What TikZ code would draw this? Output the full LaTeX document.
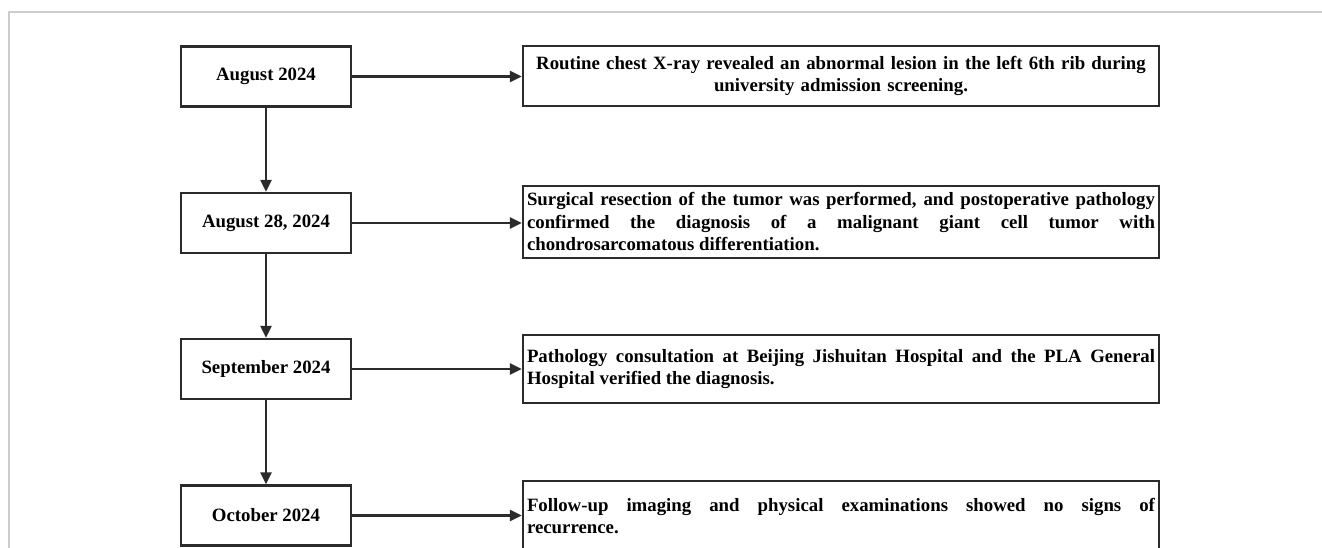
\documentclass[tikz,border=0pt]{standalone}
\usepackage{fontspec}
\setmainfont{Liberation Serif}
\usetikzlibrary{arrows.meta}
\definecolor{boxc}{HTML}{2B2B2B}
\definecolor{framec}{HTML}{CCCCCC}
\begin{document}
\begin{tikzpicture}[x=1pt,y=-1pt,
  txt/.style={font=\fontsize{18.8}{22.5}\selectfont\bfseries},
  datebox/.style={txt, draw=boxc, line width=2.3pt, minimum width=170pt, minimum height=60pt, inner sep=0pt},
  eventbox/.style={txt, draw=boxc, line width=2.3pt, text width=628pt, inner xsep=4pt, inner ysep=0pt},
  conn/.style={draw=boxc, line width=2.2pt, -{Triangle[length=12pt,width=11pt]}}]
\useasboundingbox (0,0) rectangle (1322,548);
\fill[white] (0,0) rectangle (1322,548);
% frame
\coordinate (f1) at (9,548);
\coordinate (f2) at (9,12);
\coordinate (f3) at (1322,12);
\draw[framec, line width=1.2pt] (f1) -- (f2) -- (f3);
% date boxes
\node[datebox] (d1) at (266,76.5) {August 2024};
\node[datebox] (d2) at (266,223) {August 28, 2024};
\node[datebox] (d3) at (266,369) {September 2024};
\node[datebox] (d4) at (266,515.5) {October 2024};
% event boxes
\node[eventbox, align=center, minimum height=60pt] (e1) at (841,76) {Routine chest X-ray revealed an abnormal lesion in the left 6th rib during\\university admission screening.};
\node[eventbox, align=justify, minimum height=72pt] (e2) at (841,222) {Surgical resection of the tumor was performed, and postoperative pathology\linebreak confirmed the diagnosis of a malignant giant cell tumor with\linebreak chondrosarcomatous differentiation.};
\node[eventbox, align=justify, minimum height=68pt] (e3) at (841,369) {Pathology consultation at Beijing Jishuitan Hospital and the PLA General\linebreak Hospital verified the diagnosis.};
\node[eventbox, align=justify, minimum height=70pt] (e4) at (841,516) {Follow-up imaging and physical examinations showed no signs of\linebreak recurrence.};
% connectors
\draw[conn] (d1) -- (d2);
\draw[conn] (d2) -- (d3);
\draw[conn] (d3) -- (d4);
\draw[conn] (d1.east) -- (d1.east -| e1.west);
\draw[conn] (d2.east) -- (d2.east -| e2.west);
\draw[conn] (d3.east) -- (d3.east -| e3.west);
\draw[conn] (d4.east) -- (d4.east -| e4.west);
\end{tikzpicture}
\end{document}
